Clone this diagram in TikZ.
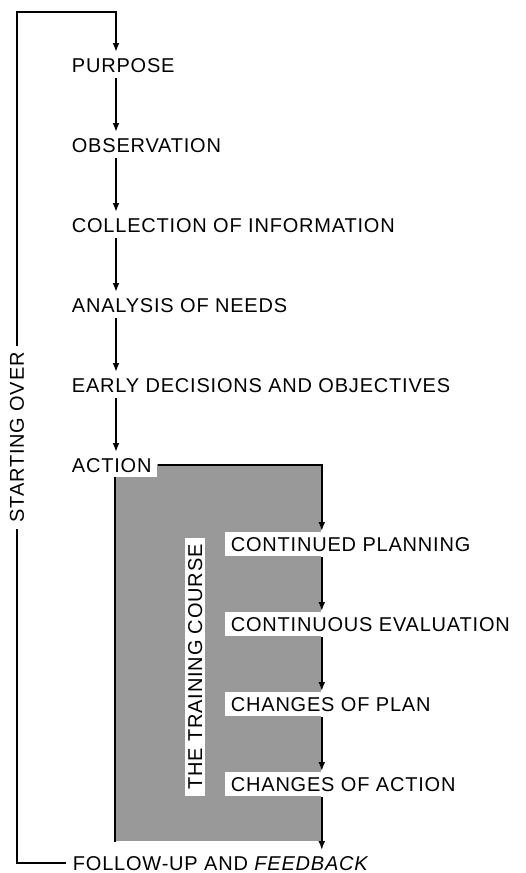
\documentclass[tikz,border=0pt]{standalone}
\usepackage{fontspec}
\setmainfont{Liberation Sans}[LetterSpace=4]
\usetikzlibrary{arrows.meta, positioning}

\begin{document}
\begin{tikzpicture}[
  x=0.5pt, y=-0.5pt, font=\fontsize{10}{12}\selectfont,
  >={Latex[length=4.5pt,width=3.4pt]}, line width=0.9pt,
  stage/.style={fill=white, inner xsep=3pt, inner ysep=2.5pt,
                text height=7pt, text depth=0pt},
  course/.style={fill=black!40, minimum width=102.5pt, minimum height=188.5pt,
                 inner sep=0pt, anchor=north west},
  side/.style={fill=white, rotate=90, inner xsep=3pt, inner ysep=1.5pt,
               text height=7pt, text depth=0pt}]
  \useasboundingbox (0,0) rectangle (525,873);
  \coordinate (spine) at (116,0);
  \coordinate (corner) at (17,12);
  % shaded training course
  \node[course] (course) at (115,463) {};
  \draw (course.north west) -- (course.south west);
  % main sequence
  \node[stage, anchor=west] (pur) at (65,65) {PURPOSE};
  \node[stage, below=40pt of pur.west, anchor=west] (obs) {OBSERVATION};
  \node[stage, below=40pt of obs.west, anchor=west] (coll) {COLLECTION OF INFORMATION};
  \node[stage, below=40pt of coll.west, anchor=west] (anal) {ANALYSIS OF NEEDS};
  \node[stage, below=40pt of anal.west, anchor=west] (early) {EARLY DECISIONS AND OBJECTIVES};
  \node[stage, below=40pt of early.west, anchor=west] (act) {ACTION};
  % inside the course
  \node[stage, anchor=west] (plan) at (224,544) {CONTINUED PLANNING};
  \node[stage, below=40pt of plan.west, anchor=west] (eval) {CONTINUOUS EVALUATION};
  \node[stage, below=40pt of eval.west, anchor=west] (chplan) {CHANGES OF PLAN};
  \node[stage, below=40pt of chplan.west, anchor=west] (chact) {CHANGES OF ACTION};
  \node[stage, anchor=west] (fb) at (66,863) {FOLLOW-UP AND \textit{FEEDBACK}};
  \node[side] (tc) at (195,667) {THE TRAINING COURSE};
  % connectors
  \foreach \a/\b in {pur/obs, obs/coll, coll/anal, anal/early, early/act}
    \draw[->] (\a.south -| spine) -- (\b.north -| spine);
  \draw[->] (act.east) -| (plan.north -| course.east);
  \foreach \a/\b in {plan/eval, eval/chplan, chplan/chact, chact/fb}
    \draw[->] (\a.south -| course.east) -- (\b.north -| course.east);
  \draw[->] (fb.west) -| node[side, pos=0.75] (start) {STARTING OVER} (corner)
    -| (pur.north -| spine);
\end{tikzpicture}
\end{document}
